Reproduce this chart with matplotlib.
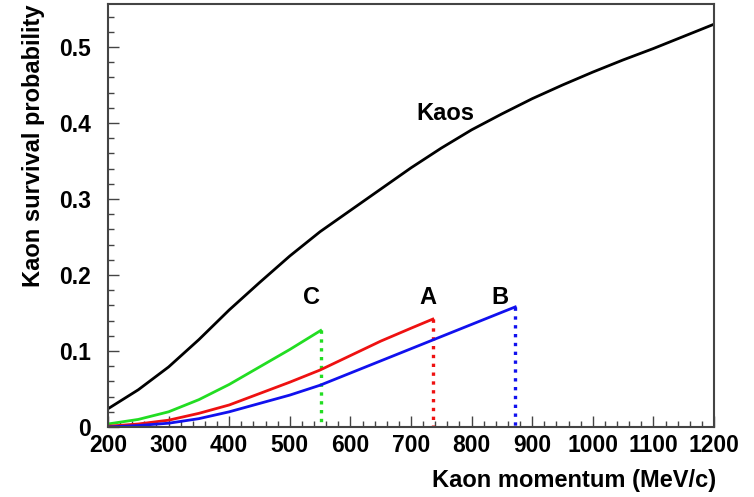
import matplotlib
matplotlib.use('Agg')
import matplotlib.pyplot as plt
from matplotlib.ticker import MultipleLocator

plt.rcParams['font.family'] = ['Liberation Sans', 'DejaVu Sans']
plt.rcParams['font.weight'] = 'bold'

# curves (momentum in MeV/c, survival probability)
kaos_p = [200, 250, 300, 350, 400, 450, 500, 550, 600, 650, 700, 750, 800,
          850, 900, 950, 1000, 1050, 1100, 1150, 1200]
kaos_s = [0.024, 0.049, 0.079, 0.115, 0.154, 0.190, 0.225, 0.257, 0.285, 0.313,
          0.341, 0.367, 0.391, 0.412, 0.432, 0.450, 0.467, 0.483, 0.498, 0.514, 0.530]

c_p = [200, 250, 300, 350, 400, 450, 500, 551]
c_s = [0.004, 0.010, 0.020, 0.036, 0.056, 0.079, 0.102, 0.127]

a_p = [200, 250, 300, 350, 400, 450, 500, 550, 600, 650, 700, 736]
a_s = [0.001, 0.004, 0.009, 0.018, 0.029, 0.044, 0.059, 0.075, 0.094, 0.113, 0.130, 0.142]

b_p = [200, 250, 300, 350, 400, 450, 500, 550, 600, 650, 700, 750, 800, 850, 872]
b_s = [0.000, 0.002, 0.005, 0.011, 0.020, 0.031, 0.042, 0.055, 0.071, 0.087,
       0.103, 0.119, 0.135, 0.151, 0.158]

xticks = [200, 300, 400, 500, 600, 700, 800, 900, 1000, 1100, 1200]
yticks = [0, 0.1, 0.2, 0.3, 0.4, 0.5]
ylabels = ['0', '0.1', '0.2', '0.3', '0.4', '0.5']

fig = plt.figure(figsize=(7.54, 4.97), dpi=100)
ax = fig.add_axes([0.1432, 0.1408, 0.8038, 0.8512])

lw = 2.0
ax.plot(kaos_p, kaos_s, '-', color='black', lw=lw, solid_joinstyle='round')
for p, s, col in [(c_p, c_s, '#22dd22'), (a_p, a_s, '#ee1111'), (b_p, b_s, '#1111ee')]:
    ax.plot(p, s, '-', color=col, lw=lw, solid_joinstyle='round')
    ax.plot([p[-1], p[-1]], [s[-1], 0], ':', color=col, lw=2.4)

ax.text(756, 0.413, 'Kaos', fontsize=17, fontweight='bold', ha='center', va='center')
ax.text(536, 0.171, 'C', fontsize=17, fontweight='bold', ha='center', va='center')
ax.text(728, 0.171, 'A', fontsize=17, fontweight='bold', ha='center', va='center')
ax.text(847, 0.171, 'B', fontsize=17, fontweight='bold', ha='center', va='center')

ax.set_xlim(200, 1200)
ax.set_ylim(0, 0.5566)
ax.set_xticks(xticks)
ax.set_yticks(yticks)
ax.set_yticklabels(ylabels)
ax.xaxis.set_minor_locator(MultipleLocator(20))
ax.yaxis.set_minor_locator(MultipleLocator(0.02))
ax.tick_params(which='both', direction='in', top=False, right=False,
               labelsize=16.5, color='#444444')
ax.tick_params(which='major', length=8, width=1)
ax.tick_params(which='minor', length=4, width=1)
ax.tick_params(axis='x', pad=5)
ax.tick_params(axis='y', pad=12)
for sp in ax.spines.values():
    sp.set_color('#444444')
    sp.set_linewidth(1.5)

ax.set_xlabel('Kaon momentum (MeV/c)', fontsize=17, fontweight='bold', loc='right')
ax.set_ylabel('Kaon survival probability', fontsize=17, fontweight='bold', loc='top')
ax.xaxis.set_label_coords(1.003, -0.100)
ax.yaxis.set_label_coords(-0.104, 0.998)

fig.savefig('out.png', dpi=100)
